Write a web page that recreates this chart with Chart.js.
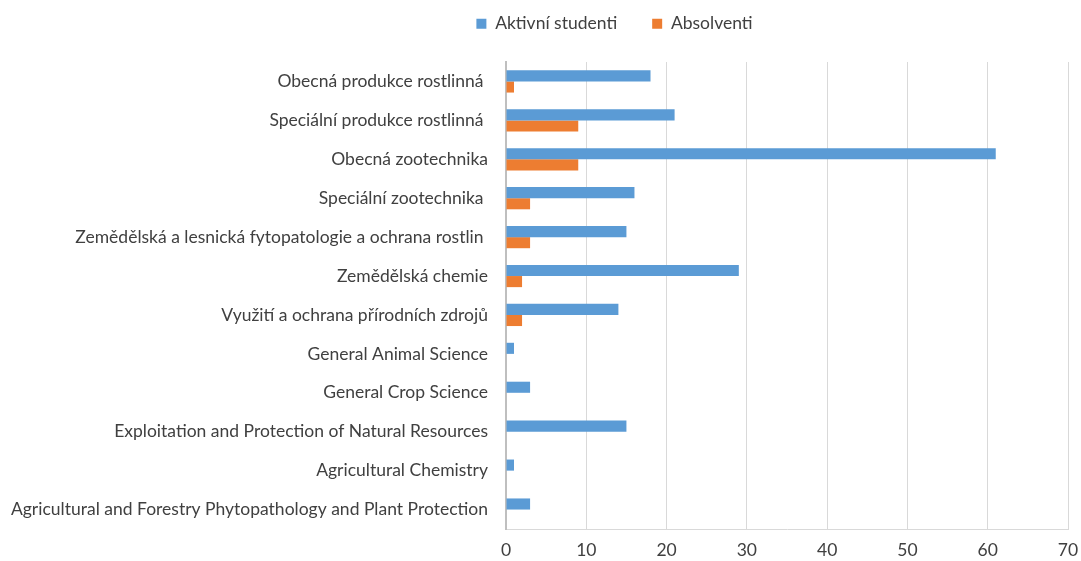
<!DOCTYPE html>
<html>
<head>
<meta charset="utf-8">
<script src="https://cdn.jsdelivr.net/npm/chart.js@4/dist/chart.umd.min.js"></script>
<style>
html,body{margin:0;padding:0;background:#fff;}
#wrap{width:1081px;height:561px;position:relative;}
</style>
</head>
<body>
<div id="wrap"><canvas id="c" width="1081" height="561"></canvas></div>
<script>
const categories = [
  "Obecná produkce rostlinná ",
  "Speciální produkce rostlinná ",
  "Obecná zootechnika",
  "Speciální zootechnika ",
  "Zemědělská a lesnická fytopatologie a ochrana rostlin ",
  "Zemědělská chemie",
  "Využití a ochrana přírodních zdrojů",
  "General Animal Science",
  "General Crop Science",
  "Exploitation and Protection of Natural Resources",
  "Agricultural Chemistry",
  "Agricultural and Forestry Phytopathology and Plant Protection"
];
const activeStudents = [18, 21, 61, 16, 15, 29, 14, 1, 3, 15, 1, 3];
const graduates = [1, 9, 9, 3, 3, 2, 2, 0, 0, 0, 0, 0];
const xTicks = [0, 10, 20, 30, 40, 50, 60, 70];

const FONT = "Lato";
const FS = 17.5;
const TXT = "#404040";

const legendTweak = {
  id: 'legendTweak',
  beforeUpdate(chart) {
    const l = chart.legend;
    if (l && !l._patched) {
      const f = l.fit.bind(l);
      l.fit = function () { f(); this.height = 62; };
      l._patched = true;
    }
  },
  afterLayout(chart) {
    const l = chart.legend;
    if (!l) return;
    l.top -= 20; l.bottom -= 20;
    l.left += 74; l.right += 74;
  }
};

new Chart(document.getElementById('c'), {
  type: 'bar',
  data: {
    labels: categories,
    datasets: [
      { label: "Aktivní studenti", data: activeStudents, backgroundColor: "#5B9BD5", borderWidth: 0 },
      { label: "Absolventi", data: graduates, backgroundColor: "#ED7D31", borderWidth: 0 }
    ]
  },
  plugins: [legendTweak],
  options: {
    indexAxis: 'y',
    responsive: false,
    animation: false,
    devicePixelRatio: 1,
    categoryPercentage: 0.57,
    barPercentage: 1.0,
    layout: { padding: { left: 0, right: 0, top: 0, bottom: 0 } },
    plugins: {
      legend: {
        position: 'top',
        labels: {
          boxWidth: 10, boxHeight: 10,
          color: TXT,
          font: { family: FONT, size: FS },
          padding: 35
        }
      },
      tooltip: { enabled: false }
    },
    scales: {
      x: {
        min: 0, max: 70,
        afterBuildTicks: (s) => { s.ticks = xTicks.map(v => ({ value: v })); },
        ticks: { color: TXT, font: { family: FONT, size: FS }, padding: 11 },
        grid: { color: "#d9d9d9", lineWidth: 1, drawTicks: false },
        border: { color: "#d9d9d9", width: 1 },
        afterFit: (s) => { s.height = 32; s.paddingRight = 13; s.paddingLeft = 0; }
      },
      y: {
        ticks: { color: TXT, font: { family: FONT, size: FS }, padding: 18, autoSkip: false },
        grid: { display: false, drawTicks: false },
        border: { color: "#bfbfbf", width: 2 },
        afterFit: (s) => { s.width = 506; }
      }
    }
  }
});
</script>
</body>
</html>
